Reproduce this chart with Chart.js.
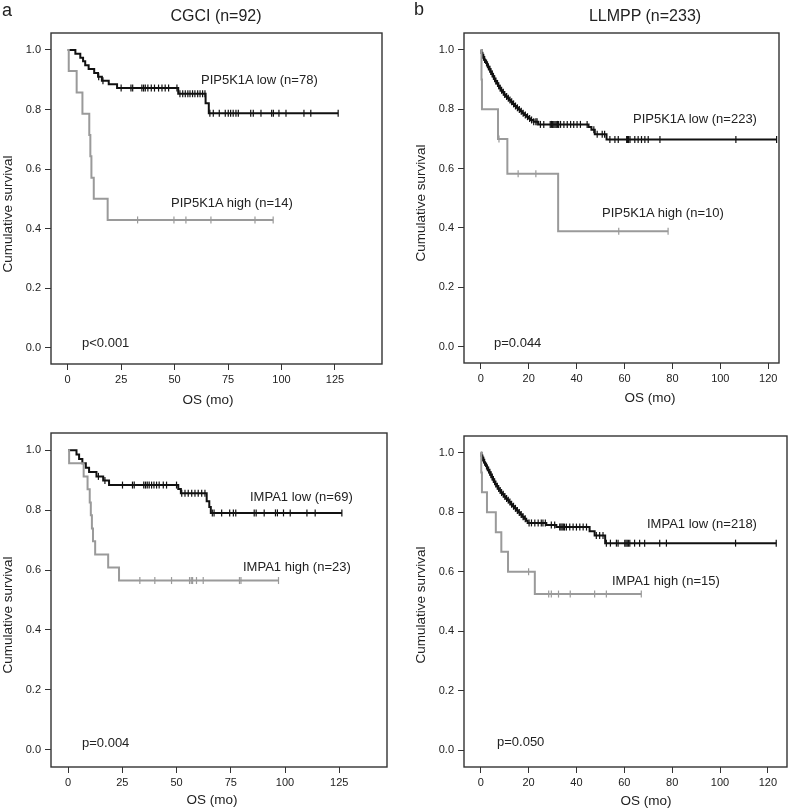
<!DOCTYPE html>
<html>
<head>
<meta charset="utf-8">
<script src="https://cdn.jsdelivr.net/npm/chart.js@4.4.1/dist/chart.umd.min.js"></script>
<style>
  body { margin: 0; background: #fff; font-family: "Liberation Sans", Arial, sans-serif; color: #222; }
  #wrap { position: relative; width: 798px; height: 810px; overflow: hidden; }
  canvas { position: absolute; }
  .t { position: absolute; white-space: nowrap; line-height: 1; transform: translateY(-50%); font-size: 13px; }
  .c { transform: translate(-50%, -50%); }
  .v { transform: translate(-50%, -50%) rotate(-90deg); font-size: 13.5px; }
  .ax { font-size: 13.5px; }
</style>
</head>
<body>
<div id="wrap">
  <canvas id="cA" width="399" height="400" style="left:0;top:0"></canvas>
  <canvas id="cB" width="399" height="400" style="left:399px;top:0"></canvas>
  <canvas id="cC" width="399" height="410" style="left:0;top:400px"></canvas>
  <canvas id="cD" width="399" height="410" style="left:399px;top:400px"></canvas>

  <div class="t" style="left:2px;top:10px;font-size:18px">a</div>
  <div class="t" style="left:414px;top:9px;font-size:18px">b</div>
  <div class="t c" style="left:216px;top:16px;font-size:16px">CGCI (n=92)</div>
  <div class="t c" style="left:645px;top:16px;font-size:16px">LLMPP (n=233)</div>

  <div class="t" style="left:201px;top:79px">PIP5K1A low (n=78)</div>
  <div class="t" style="left:171px;top:202px">PIP5K1A high (n=14)</div>
  <div class="t" style="left:82px;top:342px">p&lt;0.001</div>
  <div class="t c ax" style="left:208px;top:400px">OS (mo)</div>
  <div class="t v" style="left:8px;top:214px">Cumulative survival</div>

  <div class="t" style="left:633px;top:118px">PIP5K1A low (n=223)</div>
  <div class="t" style="left:602px;top:212px">PIP5K1A high (n=10)</div>
  <div class="t" style="left:494px;top:342px">p=0.044</div>
  <div class="t c ax" style="left:650px;top:398px">OS (mo)</div>
  <div class="t v" style="left:421px;top:203px">Cumulative survival</div>

  <div class="t" style="left:250px;top:496px">IMPA1 low (n=69)</div>
  <div class="t" style="left:243px;top:566px">IMPA1 high (n=23)</div>
  <div class="t" style="left:82px;top:742px">p=0.004</div>
  <div class="t c ax" style="left:212px;top:800px">OS (mo)</div>
  <div class="t v" style="left:8px;top:615px">Cumulative survival</div>

  <div class="t" style="left:647px;top:523px">IMPA1 low (n=218)</div>
  <div class="t" style="left:612px;top:580px">IMPA1 high (n=15)</div>
  <div class="t" style="left:497px;top:741px">p=0.050</div>
  <div class="t c ax" style="left:646px;top:801px">OS (mo)</div>
  <div class="t v" style="left:421px;top:605px">Cumulative survival</div>
</div>

<script>
// --- data (months, survival fraction) ---

// a: CGCI, PIP5K1A
const aLowTimes = [0, 3.6, 5.9, 7.2, 8.2, 9.8, 12.4, 14.2, 16.0, 19.2, 23.1, 51.7, 64.5, 66.0];
const aLowSurv  = [1, 0.987, 0.974, 0.962, 0.949, 0.936, 0.923, 0.910, 0.897, 0.885, 0.872, 0.853, 0.821, 0.787];
const aLowCens  = [14.5, 16.5, 25.0, 29.6, 30.4, 34.7, 35.5, 36.3, 37.5, 39.1, 40.6, 42.5, 44.1, 45.6, 47.2, 51.1,
                   52.5, 53.8, 55.0, 56.2, 57.2, 58.4, 59.5, 60.8, 61.9, 63.1, 64.2, 66.5, 68.1, 70.9, 73.7, 75.1,
                   76.2, 77.4, 78.7, 79.8, 85.6, 86.8, 90.4, 95.4, 96.2, 98.8, 102.1, 110.5, 113.7, 126.5];
const aHighTimes = [0, 0.5, 4.2, 6.9, 10.1, 10.6, 11.1, 12.2, 18.7];
const aHighSurv  = [1, 0.929, 0.857, 0.786, 0.714, 0.643, 0.571, 0.500, 0.429];
const aHighCens  = [32.7, 49.7, 55.3, 67.0, 87.6, 96.1];

// b: LLMPP, PIP5K1A
const bLowTimes = [0, 0.3, 0.6, 1.0, 1.4, 1.8, 2.2, 2.6, 3.0, 3.5, 4.0, 4.5, 5.0, 5.5, 6.0, 6.6, 7.2, 7.8, 8.4, 9.0,
                   9.7, 10.4, 11.1, 11.8, 12.5, 13.3, 14.1, 14.9, 15.7, 16.5, 17.3, 18.1, 19.0, 19.9, 20.8, 22.0,
                   24.0, 45.0, 46.2, 47.6, 52.5];
const bLowSurv  = [1, 0.990, 0.982, 0.975, 0.968, 0.962, 0.956, 0.950, 0.943, 0.935, 0.927, 0.919, 0.911, 0.903,
                   0.895, 0.887, 0.879, 0.871, 0.864, 0.857, 0.850, 0.843, 0.837, 0.831, 0.825, 0.818, 0.811, 0.805,
                   0.799, 0.793, 0.787, 0.781, 0.775, 0.769, 0.764, 0.758, 0.749, 0.740, 0.731, 0.716, 0.698];
const bLowCens  = [0.8, 1.2, 1.6, 2.4, 2.8, 3.2, 3.8, 4.2, 4.8, 5.3, 5.8, 6.3, 7.0, 7.5, 8.1, 8.7, 9.4, 10.0, 10.8,
                   11.5, 12.2, 12.9, 13.7, 14.5, 15.3, 16.1, 16.9, 17.7, 18.6, 19.5, 20.4, 21.2, 22.1, 23.0, 23.5,
                   24.9, 26.3, 29.0, 29.5, 30.0, 30.5, 31.0, 31.5, 32.0, 32.5, 33.3, 34.7, 36.1, 37.5, 38.8, 40.2,
                   41.6, 44.4, 47.2, 48.6, 50.7, 51.7, 53.9, 56.0, 57.4, 60.9, 61.3, 61.7, 62.3, 64.3, 65.7, 67.1,
                   68.5, 69.9, 74.8, 106.5, 123.5];
const bHighTimes = [0, 0.3, 0.5, 7.2, 11.1, 32.3];
const bHighSurv  = [1, 0.9, 0.8, 0.7, 0.583, 0.389];
const bHighCens  = [7.6, 15.6, 23.0, 57.6, 78.2];

// c: CGCI, IMPA1
const cLowTimes = [0, 3.9, 5.1, 6.6, 8.2, 9.7, 13.1, 16.2, 18.9, 50.8, 52.0, 63.9, 65.1, 65.8];
const cLowSurv  = [1, 0.986, 0.971, 0.957, 0.942, 0.928, 0.913, 0.899, 0.884, 0.871, 0.857, 0.830, 0.811, 0.791];
const cLowCens  = [14.0, 17.0, 25.1, 29.7, 30.5, 34.9, 35.7, 36.5, 37.4, 38.5, 39.6, 40.8, 42.0, 43.9, 45.4, 50.0,
                   52.4, 53.9, 55.4, 57.0, 58.5, 60.0, 61.6, 63.1, 66.5, 67.3, 70.8, 74.5, 76.2, 77.3, 85.8, 86.7,
                   90.4, 95.6, 96.5, 99.3, 102.4, 110.1, 113.9, 126.2];
const cHighTimes = [0, 0.5, 7.2, 9.0, 10.0, 10.5, 11.0, 11.5, 12.5, 18.5, 23.5];
const cHighSurv  = [1, 0.957, 0.913, 0.870, 0.826, 0.783, 0.739, 0.696, 0.652, 0.609, 0.565];
const cHighCens  = [33.1, 40.0, 47.7, 56.0, 56.8, 57.4, 59.2, 62.3, 79.0, 79.7, 97.0];

// d: LLMPP, IMPA1
const dLowTimes = [0, 0.3, 0.6, 1.0, 1.4, 1.8, 2.2, 2.6, 3.0, 3.5, 4.0, 4.5, 5.0, 5.5, 6.0, 6.6, 7.2, 7.8, 8.4, 9.0,
                   9.7, 10.4, 11.1, 11.8, 12.5, 13.3, 14.1, 14.9, 15.7, 16.5, 17.3, 18.1, 19.0, 19.6, 27.4, 31.6,
                   45.5, 47.6, 52.0];
const dLowSurv  = [1, 0.990, 0.982, 0.975, 0.968, 0.961, 0.955, 0.949, 0.942, 0.934, 0.926, 0.918, 0.910, 0.902,
                   0.895, 0.887, 0.880, 0.873, 0.866, 0.860, 0.853, 0.846, 0.840, 0.834, 0.827, 0.820, 0.813, 0.806,
                   0.799, 0.792, 0.785, 0.778, 0.771, 0.764, 0.757, 0.750, 0.736, 0.722, 0.696];
const dLowCens  = [0.8, 1.2, 1.6, 2.4, 2.8, 3.3, 3.8, 4.3, 4.8, 5.3, 5.8, 6.3, 6.9, 7.5, 8.1, 8.7, 9.4, 10.1, 10.8,
                   11.5, 12.2, 12.9, 13.7, 14.5, 15.3, 16.1, 16.9, 17.7, 18.6, 20.2, 21.2, 22.6, 24.0, 25.3, 26.0,
                   27.0, 29.5, 30.9, 33.0, 33.5, 34.0, 34.5, 35.0, 35.8, 37.2, 38.6, 40.0, 41.4, 42.8, 44.2, 48.3,
                   49.7, 51.1, 52.5, 54.2, 56.7, 57.4, 60.2, 60.7, 61.2, 61.7, 62.3, 64.3, 66.4, 68.5, 74.8, 77.6,
                   106.5, 123.5];
const dHighTimes = [0, 0.2, 0.5, 2.6, 6.3, 8.6, 11.4, 22.6];
const dHighSurv  = [1, 0.933, 0.867, 0.800, 0.733, 0.667, 0.600, 0.525];
const dHighCens  = [20.0, 28.4, 29.5, 32.5, 37.4, 47.6, 52.5, 67.1];

// axis ticks
const xTicksCGCI  = [0, 25, 50, 75, 100, 125];
const xTicksLLMPP = [0, 20, 40, 60, 80, 100, 120];
const yTicks = [0.0, 0.2, 0.4, 0.6, 0.8, 1.0];

const FONT = '"Liberation Sans", Arial, sans-serif';
const LOW_COLOR = '#111111';
const HIGH_COLOR = '#9a9a9a';

// step function value at time t
function survAt(times, surv, t) {
    let s = surv[0];
    for (let i = 0; i < times.length; i++) {
        if (times[i] <= t) s = surv[i];
    }
    return s;
}

function stepPoints(times, surv, cens) {
    const pts = times.map((t, i) => ({ x: t, y: surv[i] }));
    const end = Math.max(times[times.length - 1], ...cens);
    pts.push({ x: end, y: surv[surv.length - 1] });
    return pts;
}

function censPoints(times, surv, cens) {
    return cens.map(t => ({ x: t, y: survAt(times, surv, t) }));
}

function groupDatasets(times, surv, cens, color) {
    return [
        {
            data: stepPoints(times, surv, cens),
            stepped: true,
            borderColor: color,
            borderWidth: 2,
            pointRadius: 0,
            fill: false
        },
        {
            data: censPoints(times, surv, cens),
            showLine: false,
            pointStyle: 'line',
            rotation: 90,
            pointRadius: 3.5,
            borderColor: color,
            borderWidth: 1.2
        }
    ];
}

// box around the plotting region
const framePlugin = {
    id: 'frame',
    afterDraw(chart) {
        const { ctx, chartArea: a } = chart;
        ctx.save();
        ctx.strokeStyle = '#333';
        ctx.lineWidth = 1.4;
        ctx.strokeRect(a.left, a.top, a.right - a.left, a.bottom - a.top);
        ctx.restore();
    }
};

function makePanel(id, opts) {
    const datasets = [
        ...groupDatasets(opts.high[0], opts.high[1], opts.high[2], HIGH_COLOR),
        ...groupDatasets(opts.low[0], opts.low[1], opts.low[2], LOW_COLOR)
    ];
    const ctx = document.getElementById(id).getContext('2d');
    return new Chart(ctx, {
        type: 'line',
        data: { datasets },
        plugins: [framePlugin],
        options: {
            responsive: false,
            animation: false,
            layout: { padding: { top: opts.top, right: opts.right, left: 0, bottom: 0 } },
            plugins: { legend: { display: false }, tooltip: { enabled: false } },
            scales: {
                x: {
                    type: 'linear',
                    min: opts.xMin,
                    max: opts.xMax,
                    afterBuildTicks: s => { s.ticks = opts.xTicks.map(v => ({ value: v })); },
                    afterFit: s => { s.height = opts.xHeight; },
                    grid: { drawOnChartArea: false, drawTicks: true, tickLength: 6, color: '#333' },
                    border: { display: false },
                    ticks: { font: { family: FONT, size: 11 }, color: '#222', padding: 3, maxRotation: 0, autoSkip: false }
                },
                y: {
                    type: 'linear',
                    min: opts.yMin,
                    max: opts.yMax,
                    afterBuildTicks: s => { s.ticks = yTicks.map(v => ({ value: v })); },
                    afterFit: s => { s.width = opts.yWidth; },
                    grid: { drawOnChartArea: false, drawTicks: true, tickLength: 6, color: '#333' },
                    border: { display: false },
                    ticks: {
                        font: { family: FONT, size: 11 }, color: '#222', padding: 4, autoSkip: false,
                        callback: v => v.toFixed(1)
                    }
                }
            }
        }
    });
}

makePanel('cA', {
    low: [aLowTimes, aLowSurv, aLowCens], high: [aHighTimes, aHighSurv, aHighCens],
    xMin: -7.8, xMax: 147, yMin: -0.055, yMax: 1.057, xTicks: xTicksCGCI,
    top: 33, right: 17, yWidth: 51, xHeight: 36
});
makePanel('cB', {
    low: [bLowTimes, bLowSurv, bLowCens], high: [bHighTimes, bHighSurv, bHighCens],
    xMin: -7.0, xMax: 124.5, yMin: -0.055, yMax: 1.057, xTicks: xTicksLLMPP,
    top: 33, right: 19, yWidth: 65, xHeight: 37
});
makePanel('cC', {
    low: [cLowTimes, cLowSurv, cLowCens], high: [cHighTimes, cHighSurv, cHighCens],
    xMin: -7.85, xMax: 147, yMin: -0.058, yMax: 1.058, xTicks: xTicksCGCI,
    top: 33, right: 12, yWidth: 51, xHeight: 43
});
makePanel('cD', {
    low: [dLowTimes, dLowSurv, dLowCens], high: [dHighTimes, dHighSurv, dHighCens],
    xMin: -7.0, xMax: 128, yMin: -0.056, yMax: 1.056, xTicks: xTicksLLMPP,
    top: 36, right: 11, yWidth: 65, xHeight: 43
});
</script>
</body>
</html>
